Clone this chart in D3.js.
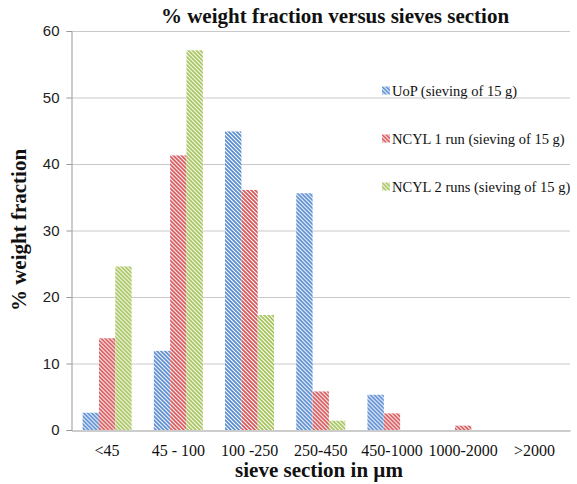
<!DOCTYPE html>
<html>
<head>
<meta charset="utf-8">
<script src="https://cdn.jsdelivr.net/npm/d3@7"></script>
<style>
  body { margin: 0; background: #fff; }
  svg { display: block; }
  .serif { font-family: 'Liberation Serif', 'Times New Roman', Times, 'DejaVu Serif', serif; }
  .sans { font-family: 'Liberation Sans', Arial, Helvetica, sans-serif; }
</style>
</head>
<body>
<div id="paper"></div>
<script>
// chart data

const categories = ['<45', '45 - 100', '100 -250', '250-450', '450-1000', '1000-2000', '>2000']
const seriesNames = ['UoP (sieving of 15 g)', 'NCYL 1 run (sieving of 15 g)', 'NCYL 2 runs (sieving of 15 g)']
const uop = [2.6, 11.9, 44.9, 35.6, 5.3, 0, 0]
const ncyl1 = [13.8, 41.3, 36.1, 5.8, 2.5, 0.65, 0]
const ncyl2 = [24.6, 57.1, 17.3, 1.4, 0, 0, 0]
const yTicks = [0, 10, 20, 30, 40, 50, 60]

const colors = ['#5689d0', '#d65357', '#a3c257']
const series = [uop, ncyl1, ncyl2]

// svg

const width = 577, height = 484
const svg = d3.select('#paper')
    .append('svg')
    .attr('id', 'canvas')
    .attr('width', width)
    .attr('height', height)

// hatch patterns, one per series

const defs = svg.append('defs')
colors.forEach((c, i) => {
    const p = defs.append('pattern')
        .attr('id', 'hatch' + i)
        .attr('patternUnits', 'userSpaceOnUse')
        .attr('width', 4)
        .attr('height', 4)
    p.append('rect').attr('width', 4).attr('height', 4).attr('fill', '#fff')
    p.append('path')
        .attr('d', 'M-1,-1 L5,5 M-1,3 L1,5 M3,-1 L5,1')
        .attr('stroke', c)
        .attr('stroke-width', 1.7)
})

// scales

const x0 = d3.scaleBand()
    .domain(categories)
    .range([71.5, 570])
    .paddingInner(0.312)
    .paddingOuter(0.156)

const x1 = d3.scaleBand()
    .domain(d3.range(series.length))
    .range([0, x0.bandwidth()])

const y = d3.scaleLinear()
    .domain([0, 60])
    .range([430, 31])

// grid lines

svg.append('g')
    .selectAll('line')
    .data(yTicks.filter(d => d > 0))
    .join('line')
    .attr('x1', 71.5)
    .attr('x2', 570)
    .attr('y1', d => y(d) + 0.5)
    .attr('y2', d => y(d) + 0.5)
    .attr('stroke', '#c9c9c9')
    .attr('stroke-width', 1.2)

// bars

const rows = categories.map((c, i) => ({cat: c, vals: series.map(s => s[i])}))

svg.append('g')
    .selectAll('g')
    .data(rows)
    .join('g')
    .attr('transform', d => `translate(${x0(d.cat)},0)`)
    .selectAll('rect')
    .data(d => d.vals.map((v, k) => ({k: k, v: v})))
    .join('rect')
    .attr('x', d => x1(d.k))
    .attr('width', x1.bandwidth())
    .attr('y', d => y(d.v))
    .attr('height', d => y(0) - y(d.v))
    .attr('fill', d => `url(#hatch${d.k})`)

// y axis

const yAxis = svg.append('g')
    .attr('transform', 'translate(71.5,0)')
    .call(d3.axisLeft(y).tickValues(yTicks).tickSize(5).tickPadding(7))

yAxis.attr('font-family', null).attr('font-size', null)
yAxis.select('.domain').attr('stroke', '#999')
yAxis.selectAll('.tick line').attr('stroke', '#999')
yAxis.selectAll('.tick text')
    .attr('class', 'sans')
    .style('font-size', '15px')
    .attr('fill', '#222')

// x axis, line and labels only

const xAxis = svg.append('g')
    .attr('transform', 'translate(0,430.5)')
    .call(d3.axisBottom(x0).tickSize(0).tickPadding(14).tickSizeOuter(0))

xAxis.attr('font-family', null).attr('font-size', null)
xAxis.select('.domain').attr('stroke', '#999')
xAxis.selectAll('.tick text')
    .attr('class', 'serif')
    .style('font-size', '16px')
    .attr('fill', '#111')

// titles

svg.append('text')
    .attr('class', 'serif')
    .attr('x', 335)
    .attr('y', 22.5)
    .attr('text-anchor', 'middle')
    .style('font-weight', 'bold')
    .style('font-size', '21px')
    .attr('fill', '#111')
    .text('% weight fraction versus sieves section')

svg.append('text')
    .attr('class', 'serif')
    .attr('x', 319)
    .attr('y', 477)
    .attr('text-anchor', 'middle')
    .style('font-weight', 'bold')
    .style('font-size', '21px')
    .attr('fill', '#111')
    .text('sieve section in µm')

svg.append('text')
    .attr('class', 'serif')
    .attr('transform', 'translate(26,230) rotate(-90)')
    .attr('text-anchor', 'middle')
    .style('font-weight', 'bold')
    .style('font-size', '21px')
    .attr('fill', '#111')
    .text('% weight fraction')

// legend

const legend = svg.append('g')
    .selectAll('g')
    .data(seriesNames)
    .join('g')
    .attr('transform', (d, i) => `translate(382,${90.5 + i * 48})`)

legend.append('rect')
    .attr('x', 0)
    .attr('y', -4)
    .attr('width', 8)
    .attr('height', 8)
    .attr('fill', (d, i) => `url(#hatch${i})`)

legend.append('text')
    .attr('class', 'serif')
    .attr('x', 10)
    .attr('y', 5)
    .style('font-size', '14.5px')
    .attr('fill', '#111')
    .text(d => d)
</script>
</body>
</html>
